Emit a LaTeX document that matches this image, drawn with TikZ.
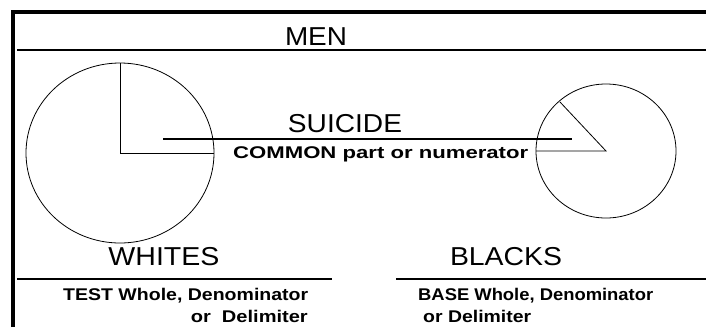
\documentclass[tikz,border=0pt]{standalone}
\usepackage{fontspec}
\setmainfont{Liberation Sans}
\usetikzlibrary{positioning}
\newcommand{\hd}{\fontsize{26}{30}\selectfont}
\newcommand{\sm}{\bfseries\fontsize{17}{20}\selectfont}
\newcommand{\fitto}[2]{\resizebox{#1}{\height}{#2}}
\tikzset{
  frame/.style={line width=4.5bp, line join=miter},
  rule/.style={line width=1.6bp},
  pie/.style={line width=0.8bp},
  lbl/.style={inner sep=0pt, anchor=base}
}
\begin{document}
\begin{tikzpicture}[x=1bp, y=-1bp]
    \useasboundingbox (0,0) rectangle (706,327);
    \coordinate (fb) at (13,327);
    \coordinate (fc) at (13,12);
    \coordinate (fr) at (706,12);
    \draw[frame] (fb) -- (fc) -- (fr);
    \node[lbl] (men) at (316,45) {\hd\fitto{62bp}{MEN}};
    \coordinate (ml) at (17,50);
    \coordinate (mr) at (706,50);
    \draw[rule] (ml) -- (mr);
    \coordinate (wc) at (120,153);
    \coordinate (wt) at (120,63);
    \coordinate (we) at (214,153);
    \draw[pie] (wc) ellipse [x radius=94, y radius=90];
    \draw[pie] (wt) -- (wc) -- (we);
    \coordinate (bc) at (606,151);
    \coordinate (bt) at (560,102);
    \coordinate (bw) at (536,151);
    \draw[pie] (bc) ellipse [x radius=70, y radius=67];
    \draw[pie] (bw) -- (bc) -- (bt);
    \node[lbl] (suicide) at (345,132) {\hd\fitto{114bp}{SUICIDE}};
    \coordinate (sl) at (163,139);
    \coordinate (sr) at (572,139);
    \draw[rule] (sl) -- (sr);
    \node[lbl, anchor=base west] (common) at (233,158) {\sm\fitto{295bp}{COMMON part or numerator}};
    \node[lbl] (whites) at (164,265) {\hd\fitto{111bp}{WHITES}};
    \node[lbl] (blacks) at (506,265) {\hd\fitto{112bp}{BLACKS}};
    \coordinate (wl) at (17,279);
    \coordinate (wr) at (332,279);
    \coordinate (bl) at (396,279);
    \coordinate (br) at (706,279);
    \draw[rule] (wl) -- (wr);
    \draw[rule] (bl) -- (br);
    \node[lbl, anchor=base west] (test) at (63,300) {\sm\fitto{245bp}{TEST Whole, Denominator}};
    \node[lbl, anchor=base east] (testor) at (308,322) {\sm\fitto{117bp}{or\ \ Delimiter}};
    \node[lbl, anchor=base west] (base) at (418,300) {\sm\fitto{235bp}{BASE Whole, Denominator}};
    \node[lbl, anchor=base west] (baseor) at (423,322) {\sm\fitto{108bp}{or Delimiter}};
\end{tikzpicture}
\end{document}
